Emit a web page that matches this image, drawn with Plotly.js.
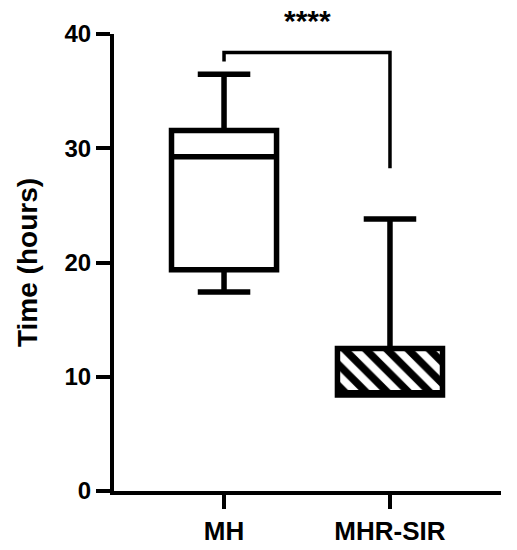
<!DOCTYPE html>
<html>
<head>
<meta charset="utf-8">
<script src="https://cdn.plot.ly/plotly-3.0.1.min.js"></script>
<style>html,body{margin:0;padding:0;background:#fff;}#chart{width:517px;height:550px;}</style>
</head>
<body>
<div id="chart"></div>
<script>
// ---- data ----
const categories = ['MH', 'MHR-SIR'];
const lowerFence = [17.42, 8.4];
const q1Values = [19.37, 8.4];
const medianValues = [29.25, 8.6];
const q3Values = [31.55, 12.47];
const upperFence = [36.48, 23.8];
const yTickValues = [0, 10, 20, 30, 40];
const bracketX = [categories[0], categories[0], categories[1], categories[1]];
const bracketY = [37.6, 38.37, 38.37, 28.26];
const significanceLabel = '****';

const FONT = 'Liberation Sans, Arial, sans-serif';

const boxes = {
  type: 'box',
  x: categories,
  lowerfence: lowerFence,
  q1: q1Values,
  median: medianValues,
  q3: q3Values,
  upperfence: upperFence,
  boxpoints: false,
  width: 0.633,
  whiskerwidth: 0.5,
  fillcolor: 'rgba(0,0,0,0)',
  line: {color: 'black', width: 5.5},
  showlegend: false
};

const hatch = {
  type: 'bar',
  x: [categories[1]],
  base: [q1Values[1]],
  y: [q3Values[1] - q1Values[1]],
  width: 0.633,
  marker: {
    color: 'white',
    line: {width: 0},
    pattern: {shape: '\\', fgcolor: 'black', bgcolor: 'white', size: 15, solidity: 0.5}
  },
  hoverinfo: 'skip',
  showlegend: false
};

const bracket = {
  type: 'scatter',
  mode: 'lines',
  x: bracketX,
  y: bracketY,
  line: {color: 'black', width: 3.5},
  hoverinfo: 'skip',
  showlegend: false,
  cliponaxis: false
};

const layout = {
  width: 517,
  height: 550,
  margin: {l: 114, r: 16, t: 34, b: 59},
  paper_bgcolor: 'white',
  plot_bgcolor: 'white',
  showlegend: false,
  xaxis: {
    type: 'category',
    categoryorder: 'array',
    categoryarray: categories,
    range: [-0.663, 1.669],
    showline: true, linecolor: 'black', linewidth: 4,
    ticks: 'outside', ticklen: 14, tickwidth: 4, tickcolor: 'black',
    showgrid: false, zeroline: false,
    tickfont: {family: FONT, size: 26, color: 'black', weight: 'bold'}
  },
  yaxis: {
    range: [0, 40],
    tickvals: yTickValues,
    showline: true, linecolor: 'black', linewidth: 4,
    ticks: 'outside', ticklen: 14, tickwidth: 4, tickcolor: 'black',
    showgrid: false, zeroline: false,
    tickfont: {family: FONT, size: 24, color: 'black', weight: 'bold'},
    title: {text: 'Time (hours)', standoff: 20, font: {family: FONT, size: 28, color: 'black', weight: 'bold'}}
  },
  annotations: [{
    x: 0.5, xref: 'x', y: 1.03, yref: 'paper',
    text: significanceLabel, showarrow: false,
    font: {family: FONT, size: 30, color: 'black', weight: 'bold'},
    xanchor: 'center', yanchor: 'middle'
  }]
};

Plotly.newPlot('chart', [hatch, boxes, bracket], layout, {displayModeBar: false, staticPlot: true});
</script>
</body>
</html>
